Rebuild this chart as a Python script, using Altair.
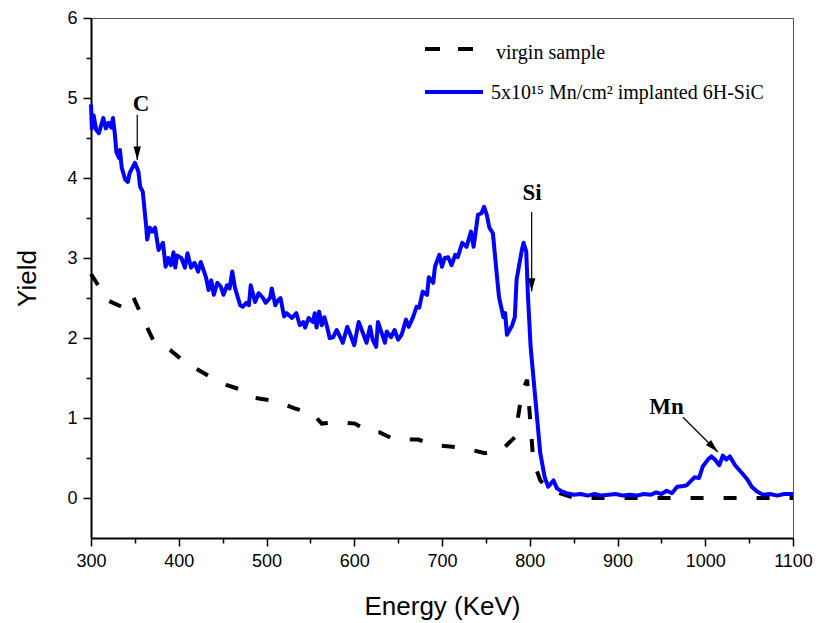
import altair as alt
import pandas as pd

# ---- data ----
virgin_energy = [300, 319, 335, 347, 361, 371, 390, 407, 438, 455, 472, 487, 512, 532, 552,
                 563, 581, 601, 616, 629, 646, 673, 692, 723, 749, 768, 783, 791, 797, 804,
                 812, 821, 834, 851, 1100]
virgin_yield = [2.80, 2.47, 2.39, 2.54, 2.20, 1.97, 1.85, 1.70, 1.50, 1.41, 1.35, 1.25, 1.21, 1.12, 1.06,
                0.93, 0.95, 0.93, 0.83, 0.82, 0.73, 0.73, 0.66, 0.63, 0.56, 0.60, 0.76, 1.31, 1.48, 0.47,
                0.22, 0.12, 0.06, 0.00, 0.00]

impl_energy = [300, 301, 303, 306, 309, 314, 317, 320, 323, 325, 327, 329, 332, 333, 335, 339, 342, 344,
               350, 354, 356, 359, 363, 364, 367, 370, 373, 377, 382, 385, 388, 391, 394, 396, 398, 403,
               407, 410, 414, 418, 422, 425, 431, 434, 437, 440, 444, 448, 451, 455, 458, 461, 464, 470,
               473, 477, 480, 482, 487, 491, 496, 499, 504, 506, 510, 513, 516, 520, 523, 529, 534, 538,
               542, 544, 548, 553, 555, 557, 560, 563, 566, 569, 572, 576, 580, 584, 587, 592, 595, 600,
               605, 610, 614, 618, 621, 625, 627, 632, 635, 637, 642, 646, 650, 654, 659, 662, 667, 671,
               674, 678, 683, 685, 690, 692, 697, 700, 703, 707, 711, 715, 718, 723, 728, 733, 736, 741,
               745, 748, 751, 754, 758, 763, 765, 770, 772, 774, 780, 783, 785, 791, 793, 796, 798, 801,
               812, 817, 821, 827, 831, 837, 842, 850, 858, 866, 874, 882, 890, 898, 906, 914, 922, 930,
               938, 944, 950, 956, 962, 968, 975, 979, 988, 993, 997, 1003, 1007, 1011, 1016, 1020, 1024,
               1028, 1034, 1042, 1048, 1053, 1059, 1066, 1074, 1082, 1090, 1100]
impl_yield = [4.92, 4.62, 4.78, 4.60, 4.56, 4.75, 4.62, 4.69, 4.63, 4.75, 4.57, 4.32, 4.25, 4.35, 4.13, 3.98, 3.95, 4.06,
              4.19, 4.08, 3.89, 3.83, 3.38, 3.23, 3.38, 3.33, 3.38, 3.10, 3.19, 2.89, 3.00, 2.91, 3.07, 2.88, 3.03, 3.00,
              2.88, 3.06, 2.88, 2.94, 2.83, 2.95, 2.76, 2.60, 2.72, 2.54, 2.69, 2.64, 2.54, 2.66, 2.62, 2.83, 2.63, 2.41,
              2.39, 2.44, 2.41, 2.66, 2.45, 2.56, 2.50, 2.44, 2.50, 2.62, 2.41, 2.47, 2.50, 2.27, 2.31, 2.25, 2.31, 2.16,
              2.20, 2.13, 2.25, 2.20, 2.31, 2.13, 2.33, 2.16, 2.26, 2.14, 2.00, 2.01, 2.10, 2.01, 1.94, 2.14, 2.06, 1.91,
              2.20, 2.06, 1.94, 2.14, 1.98, 1.89, 2.20, 2.04, 1.94, 2.08, 2.01, 2.10, 1.98, 2.04, 2.23, 2.14, 2.26, 2.39,
              2.38, 2.58, 2.54, 2.76, 2.69, 2.89, 3.04, 2.89, 3.00, 3.01, 2.91, 3.04, 3.01, 3.19, 3.14, 3.33, 3.14, 3.54,
              3.56, 3.64, 3.54, 3.38, 3.31, 2.73, 2.51, 2.26, 2.31, 2.04, 2.16, 2.26, 2.73, 3.10, 3.19, 3.08, 2.51, 1.89,
              0.56, 0.26, 0.14, 0.22, 0.12, 0.08, 0.06, 0.04, 0.05, 0.03, 0.05, 0.03, 0.04, 0.05, 0.03, 0.04, 0.03, 0.05,
              0.04, 0.07, 0.05, 0.09, 0.06, 0.14, 0.15, 0.16, 0.26, 0.25, 0.39, 0.48, 0.52, 0.48, 0.41, 0.53, 0.48,
              0.52, 0.41, 0.31, 0.23, 0.14, 0.08, 0.04, 0.05, 0.03, 0.05, 0.05]

series_names = ["virgin sample", "5x10\u00b9\u2075 Mn/cm\u00b2 implanted 6H-SiC"]

ann_labels = ["C", "Si", "Mn"]
ann_label_x = [357.0, 802.6, 955.8]
ann_label_y = [4.92, 3.81, 1.14]
arrow_x0 = [352.7, 802.2, 974.6]
arrow_y0 = [4.79, 3.575, 1.01]
arrow_x1 = [352.7, 802.2, 1014.5]
arrow_y1 = [4.225, 2.58, 0.575]
arrow_angle = [0, 0, 315]

x_ticks = list(range(300, 1101, 50))
y_ticks = [i / 2 for i in range(0, 13)]

virgin_df = pd.DataFrame({"energy": virgin_energy, "yield": virgin_yield})
impl_df = pd.DataFrame({"energy": impl_energy, "yield": impl_yield})
ann_df = pd.DataFrame({"label": ann_labels, "lx": ann_label_x, "ly": ann_label_y,
                       "x0": arrow_x0, "y0": arrow_y0, "x1": arrow_x1, "y1": arrow_y1,
                       "angle": arrow_angle})
leg1_df = pd.DataFrame({"name": [series_names[0]]})
leg2_df = pd.DataFrame({"name": [series_names[1]]})

x_scale = alt.Scale(domain=[300, 1100], nice=False, zero=False)
y_scale = alt.Scale(domain=[-0.5, 6], nice=False, zero=False)

x_axis = alt.Axis(
    title="Energy (KeV)", values=x_ticks, format="d",
    labelExpr="datum.value % 100 === 0 ? datum.label : ''",
    tickSize={"condition": {"test": "datum.value % 100 === 0", "value": 8}, "value": 5},
    grid=False, domainColor="black", domainWidth=2, tickColor="black", tickWidth=1.5,
    labelFont="Liberation Sans", labelFontSize=18, labelColor="black", labelPadding=6,
    labelFlush=False, labelOverlap=False,
    titleFont="Liberation Sans", titleFontSize=26, titleFontWeight="normal", titleColor="black",
    titleX=351, titleY=68, titleBaseline="middle", titleAlign="center",
)
y_axis = alt.Axis(
    title="Yield", values=y_ticks, format="~g",
    labelExpr="datum.value % 1 === 0 ? datum.label : ''",
    tickSize={"condition": {"test": "datum.value % 1 === 0", "value": 8}, "value": 5},
    grid=False, domainColor="black", domainWidth=2, tickColor="black", tickWidth=1.5,
    labelFont="Liberation Sans", labelFontSize=18, labelColor="black", labelPadding=6,
    labelFlush=False, labelOverlap=False,
    titleFont="Liberation Sans", titleFontSize=26, titleFontWeight="normal", titleColor="black",
    titleX=-64, titleY=260, titleAngle=270, titleBaseline="middle", titleAlign="center",
)

virgin = alt.Chart(virgin_df).mark_line(
    color="black", strokeWidth=4, strokeDash=[13, 20]
).encode(
    x=alt.X("energy:Q", scale=x_scale, axis=x_axis),
    y=alt.Y("yield:Q", scale=y_scale, axis=y_axis),
    order="energy:Q",
)

impl = alt.Chart(impl_df).mark_line(
    color="#0000ff", strokeWidth=4, strokeJoin="round"
).encode(
    x=alt.X("energy:Q", scale=x_scale),
    y=alt.Y("yield:Q", scale=y_scale),
    order="energy:Q",
)

ann_text = alt.Chart(ann_df).mark_text(
    font="Liberation Serif", fontSize=23, fontWeight="bold", color="black",
    align="center", baseline="middle"
).encode(
    x=alt.X("lx:Q", scale=x_scale), y=alt.Y("ly:Q", scale=y_scale), text="label:N"
)

ann_shaft = alt.Chart(ann_df).mark_rule(color="black", strokeWidth=1.2).encode(
    x=alt.X("x0:Q", scale=x_scale), y=alt.Y("y0:Q", scale=y_scale),
    x2="x1:Q", y2="y1:Q",
)

ann_head = alt.Chart(ann_df).mark_point(
    shape="M-0.55,-2L0.55,-2L0,0Z", filled=True, size=180, color="black", opacity=1
).encode(
    x=alt.X("x1:Q", scale=x_scale), y=alt.Y("y1:Q", scale=y_scale),
    angle=alt.Angle("angle:Q", scale=None),
)

# legend drawn inside the plot, top-right (one row per entry)
leg_dash = alt.Chart(leg1_df).mark_rule(color="black", strokeWidth=4, strokeDash=[15, 18]).encode(
    x=alt.value(334), x2=alt.value(382), y=alt.value(31)
)
leg_blue = alt.Chart(leg2_df).mark_rule(color="#0000ff", strokeWidth=4).encode(
    x=alt.value(334), x2=alt.value(392), y=alt.value(74)
)
leg_t1 = alt.Chart(leg1_df).mark_text(
    font="Liberation Serif", fontSize=20, fontWeight="normal", color="black",
    align="left", baseline="middle"
).encode(x=alt.value(405), y=alt.value(35), text="name:N")
leg_t2 = alt.Chart(leg2_df).mark_text(
    font="Liberation Serif", fontSize=20, fontWeight="normal", color="black",
    align="left", baseline="middle"
).encode(x=alt.value(400), y=alt.value(75), text="name:N")

chart = alt.layer(
    virgin, impl, ann_shaft, ann_head, ann_text, leg_dash, leg_blue, leg_t1, leg_t2
).properties(
    width=702, height=520,
    padding={"left": 91, "top": 18, "right": 28, "bottom": 85},
    autosize="none",
    background="white",
).configure_view(
    stroke="#555555", strokeWidth=1
)

chart.save("out.html", embed_options={"renderer": "svg", "actions": False})
